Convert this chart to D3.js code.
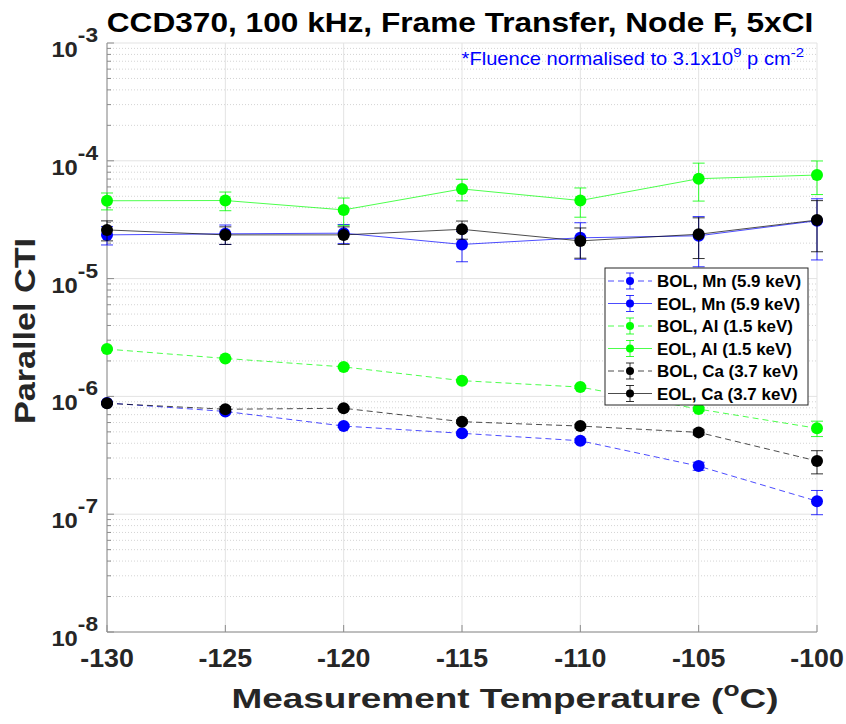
<!DOCTYPE html>
<html>
<head>
<meta charset="utf-8">
<script src="https://cdn.jsdelivr.net/npm/d3@7"></script>
<style>
  body { margin: 0; background: #fff; }
  text { font-family: "Liberation Sans", Arial, sans-serif; }
</style>
</head>
<body>
<svg id="chart" width="846" height="724"></svg>
<script>
"use strict"

// temperatures (deg C)
const temps = [-130, -125, -120, -115, -110, -105, -100]

// parallel CTI values and errors
const bolMn    = [8.8e-7, 7.45e-7, 5.6e-7, 4.86e-7, 4.2e-7, 2.56e-7, 1.29e-7]
const bolMnErr = [0.2e-7, 0.2e-7, 0.15e-7, 0.15e-7, 0.15e-7, 0.2e-7, 0.3e-7]
const eolMn    = [2.35e-5, 2.4e-5, 2.43e-5, 1.95e-5, 2.22e-5, 2.31e-5, 3.1e-5]
const eolMnErr = [0.42e-5, 0.45e-5, 0.45e-5, 0.56e-5, 0.76e-5, 1.05e-5, 1.66e-5]
const bolAl    = [2.52e-6, 2.1e-6, 1.78e-6, 1.36e-6, 1.2e-6, 7.8e-7, 5.36e-7]
const bolAlErr = [0.05e-6, 0.04e-6, 0.04e-6, 0.03e-6, 0.03e-6, 0.3e-7, 0.8e-7]
const eolAl    = [4.58e-5, 4.6e-5, 3.83e-5, 5.77e-5, 4.6e-5, 7.05e-5, 7.57e-5]
const eolAlErr = [0.75e-5, 0.83e-5, 1.0e-5, 1.2e-5, 1.28e-5, 2.5e-5, 2.4e-5]
const bolCa    = [8.73e-7, 7.78e-7, 7.93e-7, 6.1e-7, 5.6e-7, 4.95e-7, 2.83e-7]
const bolCaErr = [0.2e-7, 0.4e-7, 0.2e-7, 0.2e-7, 0.2e-7, 0.25e-7, 0.63e-7]
const eolCa    = [2.59e-5, 2.35e-5, 2.35e-5, 2.62e-5, 2.09e-5, 2.38e-5, 3.14e-5]
const eolCaErr = [0.5e-5, 0.4e-5, 0.4e-5, 0.46e-5, 0.6e-5, 0.9e-5, 1.45e-5]

const seriesNames = ["BOL, Mn (5.9 keV)", "EOL, Mn (5.9 keV)", "BOL, Al (1.5 keV)",
                     "EOL, Al (1.5 keV)", "BOL, Ca (3.7 keV)", "EOL, Ca (3.7 keV)"]
const xTicks = [-130, -125, -120, -115, -110, -105, -100]
const yExps = [-8, -7, -6, -5, -4, -3]

const series = [
    { name: seriesNames[0], vals: bolMn, errs: bolMnErr, color: "#0000ff", dash: "6,4" },
    { name: seriesNames[1], vals: eolMn, errs: eolMnErr, color: "#0000ff", dash: null },
    { name: seriesNames[2], vals: bolAl, errs: bolAlErr, color: "#00ff00", dash: "6,4" },
    { name: seriesNames[3], vals: eolAl, errs: eolAlErr, color: "#00ff00", dash: null },
    { name: seriesNames[4], vals: bolCa, errs: bolCaErr, color: "#000000", dash: "6,4" },
    { name: seriesNames[5], vals: eolCa, errs: eolCaErr, color: "#000000", dash: null }
]

const margin = { top: 43, right: 29, bottom: 92, left: 107 }
const W = 846, H = 724
const svg = d3.select("#chart")

const x = d3.scaleLinear().domain([-130, -100]).range([margin.left, W - margin.right])
const y = d3.scaleLog().domain([1e-8, 1e-3]).range([H - margin.bottom, margin.top])

// text that is a bit wider than the local font draws it
function wideText(parent, tx, ty, sx, rot) {
    return parent.append("g")
        .attr("transform", "translate(" + tx + "," + ty + ")" + (rot ? " rotate(" + rot + ")" : "") + " scale(" + sx + ",1)")
        .append("text")
}

const grid = svg.append("g")

// minor y grid (dotted)
const minorVals = []
for (let e = -8; e < -3; e++) {
    for (let k = 2; k <= 9; k++) minorVals.push(k * Math.pow(10, e))
}
grid.selectAll(".minor").data(minorVals).enter().append("line")
    .attr("x1", margin.left).attr("x2", W - margin.right)
    .attr("y1", d => y(d)).attr("y2", d => y(d))
    .attr("stroke", "#d4d4d4").attr("stroke-dasharray", "1,2")

// major grid
grid.selectAll(".ymaj").data(yExps).enter().append("line")
    .attr("x1", margin.left).attr("x2", W - margin.right)
    .attr("y1", d => y(Math.pow(10, d))).attr("y2", d => y(Math.pow(10, d)))
    .attr("stroke", "#e3e3e3")
grid.selectAll(".xmaj").data(xTicks).enter().append("line")
    .attr("x1", d => x(d)).attr("x2", d => x(d))
    .attr("y1", margin.top).attr("y2", H - margin.bottom)
    .attr("stroke", "#e3e3e3")

// axes
const axes = svg.append("g")
axes.append("line")
    .attr("x1", margin.left).attr("x2", margin.left)
    .attr("y1", margin.top).attr("y2", H - margin.bottom)
    .attr("stroke", "#8c8c8c")
axes.append("line")
    .attr("x1", margin.left).attr("x2", W - margin.right)
    .attr("y1", H - margin.bottom).attr("y2", H - margin.bottom)
    .attr("stroke", "#8c8c8c")
axes.selectAll(".ymt").data(yExps).enter().append("line")
    .attr("x1", margin.left).attr("x2", margin.left + 7)
    .attr("y1", d => y(Math.pow(10, d))).attr("y2", d => y(Math.pow(10, d)))
    .attr("stroke", "#8c8c8c")
axes.selectAll(".ymin").data(minorVals).enter().append("line")
    .attr("x1", margin.left).attr("x2", margin.left + 4)
    .attr("y1", d => y(d)).attr("y2", d => y(d))
    .attr("stroke", "#8c8c8c")
axes.selectAll(".xt").data(xTicks).enter().append("line")
    .attr("x1", d => x(d)).attr("x2", d => x(d))
    .attr("y1", H - margin.bottom).attr("y2", H - margin.bottom - 7)
    .attr("stroke", "#8c8c8c")

// tick labels
yExps.forEach(e => {
    const t = wideText(axes, margin.left - 9, y(Math.pow(10, e)) + 14, 1.08)
        .attr("text-anchor", "end")
        .attr("font-weight", "bold").attr("font-size", 22).attr("fill", "#262626")
    t.append("tspan").text("10")
    t.append("tspan").attr("dy", -15).attr("font-size", 21).text(e)
})

xTicks.forEach(v => {
    wideText(axes, x(v), H - margin.bottom + 35, 1.03)
        .attr("text-anchor", "middle")
        .attr("font-weight", "bold").attr("font-size", 26).attr("fill", "#262626")
        .text(v)
})

// axis titles
const xt = wideText(svg, 505, 708, 1.32)
    .attr("text-anchor", "middle")
    .attr("font-weight", "bold").attr("font-size", 28).attr("fill", "#262626")
xt.append("tspan").text("Measurement Temperature (")
xt.append("tspan").attr("dy", -12).attr("font-size", 20).text("o")
xt.append("tspan").attr("dy", 12).text("C)")

wideText(svg, 35, 331, 1.14, -90)
    .attr("text-anchor", "middle")
    .attr("font-weight", "bold").attr("font-size", 30).attr("fill", "#262626")
    .text("Parallel CTI")

wideText(svg, 460, 32, 1.13)
    .attr("text-anchor", "middle")
    .attr("font-weight", "bold").attr("font-size", 28).attr("fill", "#000")
    .text("CCD370, 100 kHz, Frame Transfer, Node F, 5xCI")

const note = wideText(svg, 804, 65, 1.15)
    .attr("text-anchor", "end")
    .attr("font-size", 17.5).attr("fill", "#0000ff")
note.append("tspan").text("*Fluence normalised to 3.1x10")
note.append("tspan").attr("dy", -8).attr("font-size", 13).text("9")
note.append("tspan").attr("dy", 8).text(" p cm")
note.append("tspan").attr("dy", -8).attr("font-size", 13).text("-2")

// series
const line = d3.line().x(d => x(d[0])).y(d => y(d[1]))
const plot = svg.append("g")
series.forEach(s => {
    const pts = temps.map((t, i) => [t, s.vals[i], s.errs[i]])
    const g = plot.append("g")
    g.append("path")
        .attr("d", line(pts))
        .attr("fill", "none").attr("stroke", s.color).attr("stroke-width", 1)
        .attr("stroke-opacity", 0.7)
        .attr("stroke-dasharray", s.dash)
    const eb = g.selectAll(".eb").data(pts).enter().append("g")
        .attr("stroke", s.color).attr("stroke-width", 1).attr("stroke-opacity", 0.8)
    eb.append("line")
        .attr("x1", d => x(d[0])).attr("x2", d => x(d[0]))
        .attr("y1", d => y(d[1] + d[2])).attr("y2", d => y(Math.max(d[1] - d[2], 1e-9)))
    eb.append("line")
        .attr("x1", d => x(d[0]) - 6).attr("x2", d => x(d[0]) + 6)
        .attr("y1", d => y(d[1] + d[2])).attr("y2", d => y(d[1] + d[2]))
    eb.append("line")
        .attr("x1", d => x(d[0]) - 6).attr("x2", d => x(d[0]) + 6)
        .attr("y1", d => y(Math.max(d[1] - d[2], 1e-9))).attr("y2", d => y(Math.max(d[1] - d[2], 1e-9)))
    g.selectAll("circle").data(pts).enter().append("circle")
        .attr("cx", d => x(d[0])).attr("cy", d => y(d[1]))
        .attr("r", 6).attr("fill", s.color)
})

// legend
const leg = svg.append("g").attr("transform", "translate(605,268)")
leg.append("rect").attr("width", 203).attr("height", 137)
    .attr("fill", "#fff").attr("stroke", "#262626").attr("stroke-width", 1)
const item = leg.selectAll(".item").data(series).enter().append("g")
    .attr("transform", (d, i) => "translate(0," + (13 + i * 22.5) + ")")
item.append("line").attr("x1", 3).attr("x2", 47)
    .attr("stroke", d => d.color).attr("stroke-opacity", 0.7)
    .attr("stroke-dasharray", d => d.dash)
item.append("line").attr("x1", 25).attr("x2", 25).attr("y1", -8).attr("y2", 8)
    .attr("stroke", d => d.color).attr("stroke-opacity", 0.8)
item.append("line").attr("x1", 21).attr("x2", 29).attr("y1", -8).attr("y2", -8)
    .attr("stroke", d => d.color).attr("stroke-opacity", 0.8)
item.append("line").attr("x1", 21).attr("x2", 29).attr("y1", 8).attr("y2", 8)
    .attr("stroke", d => d.color).attr("stroke-opacity", 0.8)
item.append("circle").attr("cx", 25).attr("r", 4).attr("fill", d => d.color)
item.each(function(d) {
    wideText(d3.select(this), 52, 6, 1.06)
        .attr("font-weight", "bold").attr("font-size", 16).attr("fill", "#000")
        .text(d.name)
})
</script>
</body>
</html>
